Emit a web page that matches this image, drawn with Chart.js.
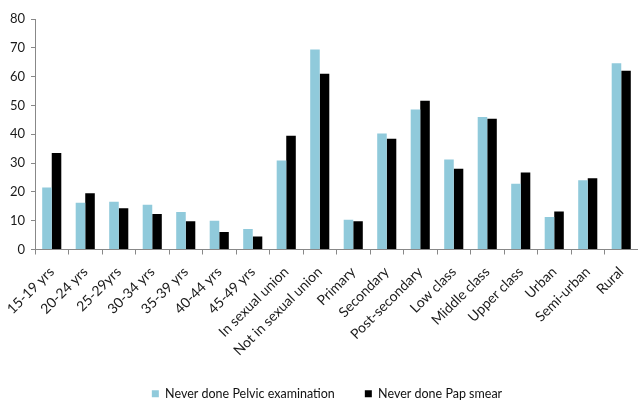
<!DOCTYPE html>
<html>
<head>
<meta charset="utf-8">
<script src="https://cdn.jsdelivr.net/npm/chart.js@4/dist/chart.umd.min.js"></script>
<style>
html,body{margin:0;padding:0;background:#fff;}
#wrap{width:638px;height:400px;position:relative;}
</style>
</head>
<body>
<div id="wrap"><canvas id="c"></canvas></div>
<script>
const categories = ["15-19 yrs","20-24 yrs","25-29yrs","30-34 yrs","35-39 yrs","40-44 yrs","45-49 yrs","In sexual union","Not in sexual union","Primary","Secondary","Post-secondary","Low class","Middle class","Upper class","Urban","Semi-urban","Rural"];
const pelvic = [21.5,16.2,16.6,15.5,13.0,10.0,7.1,30.9,69.4,10.3,40.3,48.6,31.2,46.0,22.8,11.3,24.0,64.6];
const papSmear = [33.5,19.5,14.3,12.3,9.8,6.1,4.5,39.5,61.0,9.8,38.4,51.6,28.0,45.4,26.7,13.2,24.7,62.0];
const seriesNames = ["Never done Pelvic examination","Never done Pap smear"];
const yTicksMin = 0, yTicksMax = 80, yStep = 10;

const FONT = "Lato, 'Open Sans', sans-serif";
const legendShift = {
  id: 'legendShift',
  afterLayout(chart){
    const l = chart.legend;
    if(!l) return;
    l.left += 8; l.right += 8;
    l.top -= 2; l.bottom -= 2;
  }
};

new Chart(document.getElementById('c'), {
  type: 'bar',
  data: {
    labels: categories,
    datasets: [
      {label: seriesNames[0], data: pelvic, backgroundColor: '#90CADB', borderWidth: 0},
      {label: seriesNames[1], data: papSmear, backgroundColor: '#000000', borderWidth: 0}
    ]
  },
  options: {
    responsive: true,
    maintainAspectRatio: false,
    animation: false,
    datasets: {bar: {categoryPercentage: 0.57, barPercentage: 1.0}},
    layout: {padding: {top: 19, right: 0, left: 0, bottom: -12}},
    plugins: {
      tooltip: {enabled: false},
      legend: {
        position: 'bottom',
        labels: {
          boxWidth: 7, boxHeight: 7, padding: 30,
          color: '#111',
          font: {family: FONT, size: 12.5}
        }
      }
    },
    scales: {
      x: {
        grid: {display: true, drawOnChartArea: false, offset: true, tickLength: 5, color: '#888'},
        border: {color: '#888'},
        ticks: {minRotation: 45, maxRotation: 45, color: '#1a1a1a', font: {family: FONT, size: 14}, padding: 9, autoSkip: false},
        afterFit(scale){ scale.height = 110; scale.paddingRight = 0; scale.paddingLeft = 0; }
      },
      y: {
        min: yTicksMin, max: yTicksMax,
        grid: {display: true, drawOnChartArea: false, tickLength: 4, color: '#888'},
        border: {color: '#888'},
        ticks: {stepSize: yStep, color: '#1a1a1a', font: {family: FONT, size: 13}, padding: 6},
        afterFit(scale){ scale.width = 35; scale.paddingTop = 0; scale.paddingBottom = 0; }
      }
    }
  },
  plugins: [legendShift]
});
</script>
</body>
</html>
